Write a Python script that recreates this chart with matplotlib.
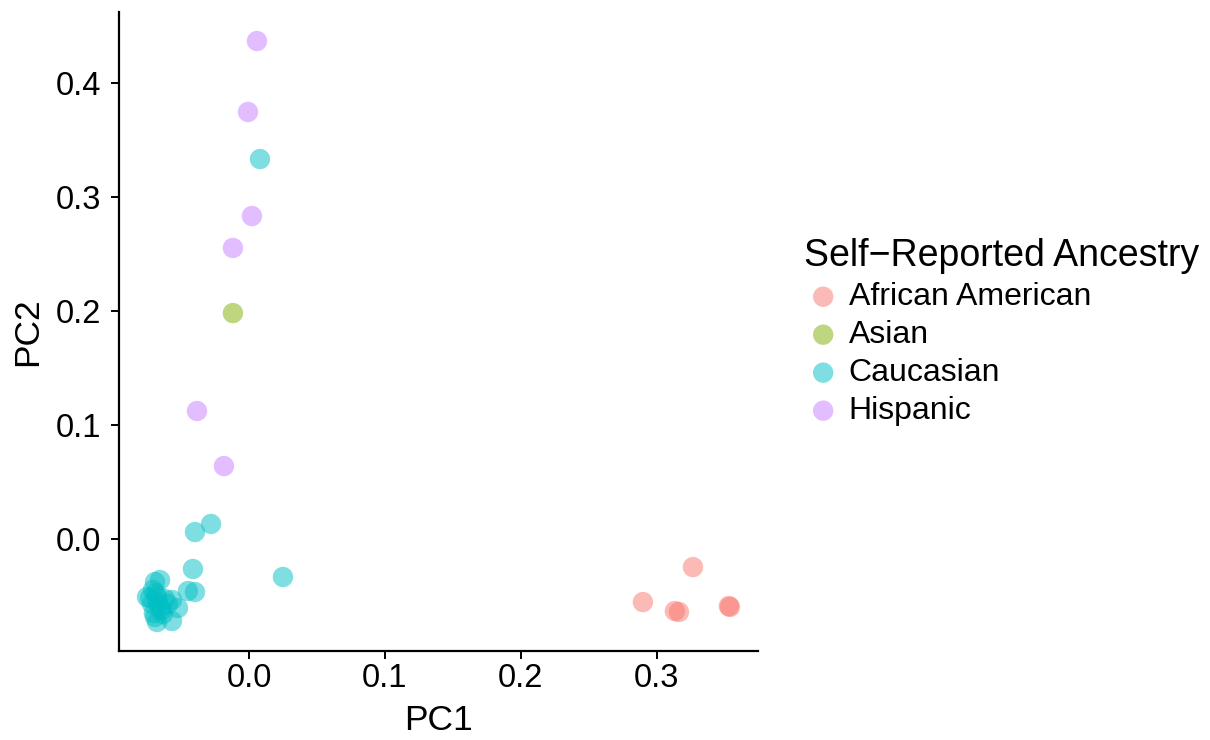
import matplotlib
matplotlib.use("Agg")
import matplotlib.pyplot as plt

plt.rcParams['font.family'] = ['Liberation Sans', 'DejaVu Sans']

groups = ["African American", "Asian", "Caucasian", "Hispanic"]
colors = ["#F8766D", "#7CAE00", "#00BFC4", "#C77CFF"]

aa_x = [0.3265, 0.2897, 0.3132, 0.3162, 0.3529, 0.3537]
aa_y = [-0.0246, -0.0553, -0.0632, -0.0640, -0.0588, -0.0596]

as_x = [-0.0118]
as_y = [0.1982]

ca_x = [0.0081, -0.0279, -0.0397, -0.0412, -0.0397, -0.0449, 0.0250,
        -0.0654, -0.0691, -0.0750, -0.0706, -0.0676, -0.0618, -0.0566,
        -0.0522, -0.0566, -0.0676, -0.0699, -0.0654, -0.0713, -0.0669,
        -0.0640, -0.0728, -0.0684, -0.0632, -0.0596, -0.0691]
ca_y = [0.3333, 0.0132, 0.0061, -0.0263, -0.0465, -0.0456, -0.0333,
        -0.0360, -0.0377, -0.0509, -0.0447, -0.0509, -0.0526, -0.0535,
        -0.0605, -0.0719, -0.0728, -0.0649, -0.0605, -0.0570, -0.0561,
        -0.0623, -0.0518, -0.0474, -0.0658, -0.0570, -0.0684]

hi_x = [0.0059, -0.0007, 0.0022, -0.0118, -0.0382, -0.0184]
hi_y = [0.4368, 0.3746, 0.2833, 0.2553, 0.1123, 0.0640]

xticks = [0.0, 0.1, 0.2, 0.3]
yticks = [0.0, 0.1, 0.2, 0.3, 0.4]

fig = plt.figure(figsize=(12.1, 7.4), dpi=100)
ax = fig.add_axes([0.0983, 0.1203, 0.5281, 0.8635])

data = [(aa_x, aa_y), (as_x, as_y), (ca_x, ca_y), (hi_x, hi_y)]
for (xs, ys), g, c in zip(data, groups, colors):
    ax.scatter(xs, ys, s=215, color=c, alpha=0.5, edgecolors='none', label=g)

ax.set_xlim(-0.0956, 0.3743)
ax.set_ylim(-0.0982, 0.4623)
ax.set_xticks(xticks)
ax.set_xticklabels([f"{v:.1f}" for v in xticks])
ax.set_yticks(yticks)
ax.set_yticklabels([f"{v:.1f}" for v in yticks])

for s in ['top', 'right']:
    ax.spines[s].set_visible(False)
for s in ['left', 'bottom']:
    ax.spines[s].set_linewidth(1.6)
ax.tick_params(axis='both', length=6, width=1.4, labelsize=23.5)
ax.tick_params(axis='y', pad=7)
ax.tick_params(axis='x', pad=2.5)
ax.set_xlabel("PC1", fontsize=25.5, labelpad=7)
ax.set_ylabel("PC2", fontsize=25.5, labelpad=8)

leg = fig.legend(loc='upper left', bbox_to_anchor=(0.6539, 0.6955),
                 title="Self\u2212Reported Ancestry", title_fontsize=27,
                 fontsize=23, frameon=False, handlelength=1.2,
                 handletextpad=0.2, labelspacing=0.25, borderaxespad=0,
                 alignment='left', scatterpoints=1)

fig.savefig("out.png", dpi=100)
